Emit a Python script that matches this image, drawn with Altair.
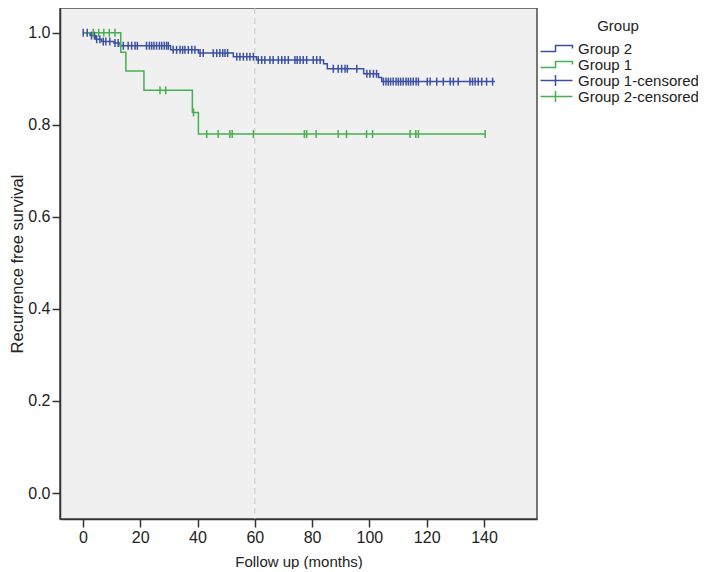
import bisect
import altair as alt
import pandas as pd

# ---- data ----
# Group 2 (blue) Kaplan-Meier steps: event times (months) and survival after each step
g2_times = [0, 2.5, 4.5, 6.5, 10.8, 13.0, 30.6, 40.3, 52.5, 60.6, 84.0, 85.3, 98.0, 103.2, 104.3, 143.8]
g2_surv = [1.0, 0.994, 0.986, 0.981, 0.978, 0.972, 0.963, 0.956, 0.948, 0.941, 0.933, 0.922, 0.911, 0.903, 0.894, 0.894]

# Group 1 (green) Kaplan-Meier steps
g1_times = [0, 13.2, 15.0, 21.3, 38.2, 40.3, 140.4]
g1_surv = [1.0, 0.958, 0.917, 0.875, 0.827, 0.780, 0.780]

# censored observations (months)
g2_cens = [0.1, 1.5, 3.0, 4.0, 4.8, 5.9, 7.1, 8.0, 9.4, 11.2, 12.3, 14.1, 15.8, 17.0, 18.2, 19.0,
           22.2, 23.2, 24.0, 24.8, 25.7, 26.7, 27.5, 28.4, 29.2, 29.8, 31.5, 32.7, 33.9, 34.8, 35.6,
           36.8, 38.0, 39.1, 40.9, 42.0, 45.5, 46.7, 47.8, 48.8, 49.6, 50.5, 53.7, 54.8, 56.0, 57.2,
           58.3, 59.5, 61.2, 62.4, 63.5, 65.3, 66.4, 68.2, 69.4, 70.5, 71.7, 74.0, 74.8, 75.8, 76.9,
           78.1, 80.4, 81.6, 82.8, 87.4, 89.1, 90.3, 91.5, 92.3, 95.6, 99.1, 100.2, 101.4, 102.5,
           104.9, 105.8, 106.6, 107.4, 108.3, 109.3, 110.1, 110.9, 111.8, 112.8, 113.6, 114.4, 115.3,
           116.3, 117.1, 120.2, 121.2, 123.5, 125.8, 128.2, 129.3, 131.0, 135.1, 136.0, 136.9, 138.0,
           139.2, 140.9, 143.0]
g1_cens = [3.6, 5.5, 7.3, 9.2, 11.2, 26.9, 28.9, 38.6, 43.2, 47.2, 51.3, 52.1, 59.5, 77.3, 78.1,
           81.4, 89.1, 92.0, 99.0, 101.1, 114.2, 116.2, 117.1, 140.4]

legend_labels = ["Group 2", "Group 1", "Group 1-censored", "Group 2-censored"]
x_ticks = [0, 20, 40, 60, 80, 100, 120, 140]
y_ticks = [0.0, 0.2, 0.4, 0.6, 0.8, 1.0]
ref_month = [60]

BLUE = "#3b4fa3"
GREEN = "#45b04f"
FONT = "Liberation Sans"

STEP_PATH = "M-1,0.6H2V-0.6H5.4V0"
PLUS_PATH = "M-1,0H5.4M2,-1.1V1.1"


def surv_at(times, surv, t):
    i = bisect.bisect_right(times, t) - 1
    return surv[max(i, 0)]


lines_df = pd.DataFrame({
    "t": g2_times + g1_times,
    "s": g2_surv + g1_surv,
    "grp": ["Group 2"] * len(g2_times) + ["Group 1"] * len(g1_times),
})
cens_df = pd.DataFrame({
    "t": g2_cens + g1_cens,
    "s": [surv_at(g2_times, g2_surv, t) for t in g2_cens] + [surv_at(g1_times, g1_surv, t) for t in g1_cens],
    "grp": ["Group 1-censored"] * len(g2_cens) + ["Group 2-censored"] * len(g1_cens),
})
legend_df = pd.DataFrame({"t": [-100] * 4, "s": [0.5] * 4, "grp": legend_labels})
rule_df = pd.DataFrame({"t": ref_month})

x_enc = alt.X("t:Q", title="Follow up (months)",
              scale=alt.Scale(domain=[-8, 158.5], nice=False, zero=False),
              axis=alt.Axis(values=x_ticks, format="d", labelPadding=2, titlePadding=9))
y_enc = alt.Y("s:Q", title="Recurrence free survival",
              scale=alt.Scale(domain=[-0.0565, 1.054], nice=False, zero=False),
              axis=alt.Axis(values=y_ticks, format=".1f", labelPadding=2, titlePadding=2,
                            titleFontSize=16.5))

leg = alt.Legend(title="Group", orient="none", legendX=478, legendY=11, symbolSize=100,
                 labelOffset=25, padding=0, rowPadding=-1, titleAnchor="middle", titlePadding=7,
                 symbolStrokeWidth=1.5, symbolFillColor="transparent", labelLimit=300,
                 labelFont=FONT, labelFontSize=15, labelColor="#222",
                 titleFont=FONT, titleFontSize=15, titleFontWeight="normal", titleColor="#222")
color_scale = alt.Scale(domain=legend_labels, range=[BLUE, GREEN, BLUE, GREEN])
shape_scale = alt.Scale(domain=legend_labels, range=[STEP_PATH, STEP_PATH, PLUS_PATH, PLUS_PATH])

rule = alt.Chart(rule_df).mark_rule(color="#c8c8c8", strokeDash=[6, 4], strokeWidth=1).encode(x=x_enc)

lines = alt.Chart(lines_df).mark_line(interpolate="step-after", strokeWidth=1.5, clip=True).encode(
    x=x_enc, y=y_enc, color=alt.Color("grp:N", scale=color_scale, legend=leg))

cens = alt.Chart(cens_df).mark_point(shape="M0,-1V1", size=64, filled=False, strokeWidth=1.5,
                                     opacity=1, clip=True).encode(
    x=x_enc, y=y_enc, color=alt.Color("grp:N", scale=color_scale, legend=leg))

legend_layer = alt.Chart(legend_df).mark_point(filled=False, opacity=1, strokeWidth=1.5, clip=True).encode(
    x=x_enc, y=y_enc,
    color=alt.Color("grp:N", scale=color_scale, legend=leg),
    shape=alt.Shape("grp:N", scale=shape_scale, legend=leg))

chart = alt.layer(rule, lines, cens, legend_layer).properties(
    width=477, height=511,
    autosize=alt.AutoSizeParams(type="none"),
    padding={"left": 52, "top": 0, "right": 161, "bottom": 50},
).configure_view(
    fill="#f0f0f0", stroke="#4a4a4a", strokeWidth=1.5
).configure_axis(
    grid=False, domainColor="#333", domainWidth=1.5, tickColor="#333", tickWidth=1.5, tickSize=8,
    labelFont=FONT, labelFontSize=16, labelColor="#222",
    titleFont=FONT, titleFontSize=15, titleFontWeight="normal", titleColor="#222",
)

chart.save("out.html", embed_options={"renderer": "svg", "actions": False})
